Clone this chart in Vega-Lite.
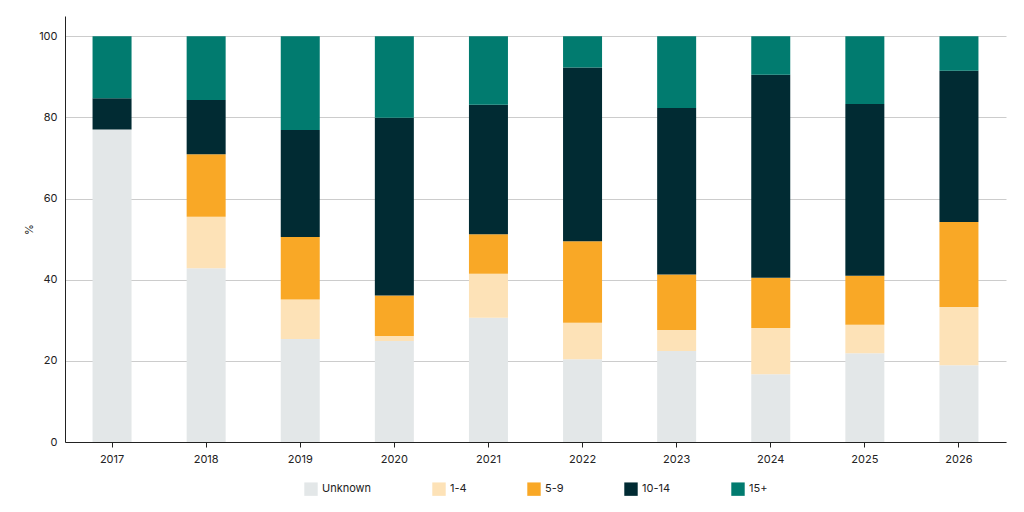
{
  "$schema": "https://vega.github.io/schema/vega-lite/v6.json",
  "width": 1024,
  "height": 512,
  "autosize": {"type": "fit", "contains": "padding"},
  "padding": {"left": 23, "right": 18, "top": 16, "bottom": 16},
  "background": "#ffffff",
  "config": {"view": {"stroke": null}, "font": "Inter", "legend": {"layout": {"bottom": {"anchor": "middle"}}}},
  "data": {
    "values": [
      {"year": "2017", "group": "Unknown", "o": 1, "v": 77.0}, {"year": "2017", "group": "1-4", "o": 2, "v": 0}, {"year": "2017", "group": "5-9", "o": 3, "v": 0}, {"year": "2017", "group": "10-14", "o": 4, "v": 7.7}, {"year": "2017", "group": "15+", "o": 5, "v": 15.3},
      {"year": "2018", "group": "Unknown", "o": 1, "v": 42.8}, {"year": "2018", "group": "1-4", "o": 2, "v": 12.7}, {"year": "2018", "group": "5-9", "o": 3, "v": 15.4}, {"year": "2018", "group": "10-14", "o": 4, "v": 13.4}, {"year": "2018", "group": "15+", "o": 5, "v": 15.7},
      {"year": "2019", "group": "Unknown", "o": 1, "v": 25.4}, {"year": "2019", "group": "1-4", "o": 2, "v": 9.7}, {"year": "2019", "group": "5-9", "o": 3, "v": 15.4}, {"year": "2019", "group": "10-14", "o": 4, "v": 26.4}, {"year": "2019", "group": "15+", "o": 5, "v": 23.1},
      {"year": "2020", "group": "Unknown", "o": 1, "v": 24.9}, {"year": "2020", "group": "1-4", "o": 2, "v": 1.2}, {"year": "2020", "group": "5-9", "o": 3, "v": 10.0}, {"year": "2020", "group": "10-14", "o": 4, "v": 43.8}, {"year": "2020", "group": "15+", "o": 5, "v": 20.1},
      {"year": "2021", "group": "Unknown", "o": 1, "v": 30.6}, {"year": "2021", "group": "1-4", "o": 2, "v": 10.9}, {"year": "2021", "group": "5-9", "o": 3, "v": 9.7}, {"year": "2021", "group": "10-14", "o": 4, "v": 31.9}, {"year": "2021", "group": "15+", "o": 5, "v": 16.9},
      {"year": "2022", "group": "Unknown", "o": 1, "v": 20.4}, {"year": "2022", "group": "1-4", "o": 2, "v": 9.0}, {"year": "2022", "group": "5-9", "o": 3, "v": 20.1}, {"year": "2022", "group": "10-14", "o": 4, "v": 42.8}, {"year": "2022", "group": "15+", "o": 5, "v": 7.7},
      {"year": "2023", "group": "Unknown", "o": 1, "v": 22.4}, {"year": "2023", "group": "1-4", "o": 2, "v": 5.2}, {"year": "2023", "group": "5-9", "o": 3, "v": 13.7}, {"year": "2023", "group": "10-14", "o": 4, "v": 41.0}, {"year": "2023", "group": "15+", "o": 5, "v": 17.7},
      {"year": "2024", "group": "Unknown", "o": 1, "v": 16.7}, {"year": "2024", "group": "1-4", "o": 2, "v": 11.4}, {"year": "2024", "group": "5-9", "o": 3, "v": 12.4}, {"year": "2024", "group": "10-14", "o": 4, "v": 50.0}, {"year": "2024", "group": "15+", "o": 5, "v": 9.5},
      {"year": "2025", "group": "Unknown", "o": 1, "v": 21.9}, {"year": "2025", "group": "1-4", "o": 2, "v": 7.0}, {"year": "2025", "group": "5-9", "o": 3, "v": 12.1}, {"year": "2025", "group": "10-14", "o": 4, "v": 42.3}, {"year": "2025", "group": "15+", "o": 5, "v": 16.7},
      {"year": "2026", "group": "Unknown", "o": 1, "v": 18.9}, {"year": "2026", "group": "1-4", "o": 2, "v": 14.4}, {"year": "2026", "group": "5-9", "o": 3, "v": 20.9}, {"year": "2026", "group": "10-14", "o": 4, "v": 37.3}, {"year": "2026", "group": "15+", "o": 5, "v": 8.5}
    ]
  },
  "mark": {"type": "bar", "width": 39},
  "encoding": {
    "x": {
      "field": "year", "type": "ordinal", "title": null,
      "axis": {"labelAngle": 0, "labelColor": "#222222", "labelFontSize": 11, "domainColor": "#222222", "tickColor": "#222222", "labelPadding": 6}
    },
    "y": {
      "field": "v", "type": "quantitative", "stack": "zero", "title": "%",
      "scale": {"domain": [0, 105], "nice": false},
      "axis": {"values": [0, 20, 40, 60, 80, 100], "labelColor": "#222222", "labelFontSize": 11, "domainColor": "#222222", "ticks": false, "gridColor": "#cccccc", "titleColor": "#222222", "titleFontWeight": "normal", "titleFontSize": 11, "labelPadding": 8}
    },
    "color": {
      "field": "group", "type": "nominal",
      "scale": {"domain": ["Unknown", "1-4", "5-9", "10-14", "15+"], "range": ["#e3e7e8", "#fde2b7", "#f9a826", "#012b33", "#017b6f"]},
      "legend": {"orient": "bottom", "direction": "horizontal", "title": null, "symbolType": "square", "symbolSize": 180, "labelFontSize": 11, "labelColor": "#222222", "columnPadding": 60, "symbolStrokeWidth": 0, "offset": 18}
    },
    "order": {"field": "o", "type": "quantitative"}
  }
}
